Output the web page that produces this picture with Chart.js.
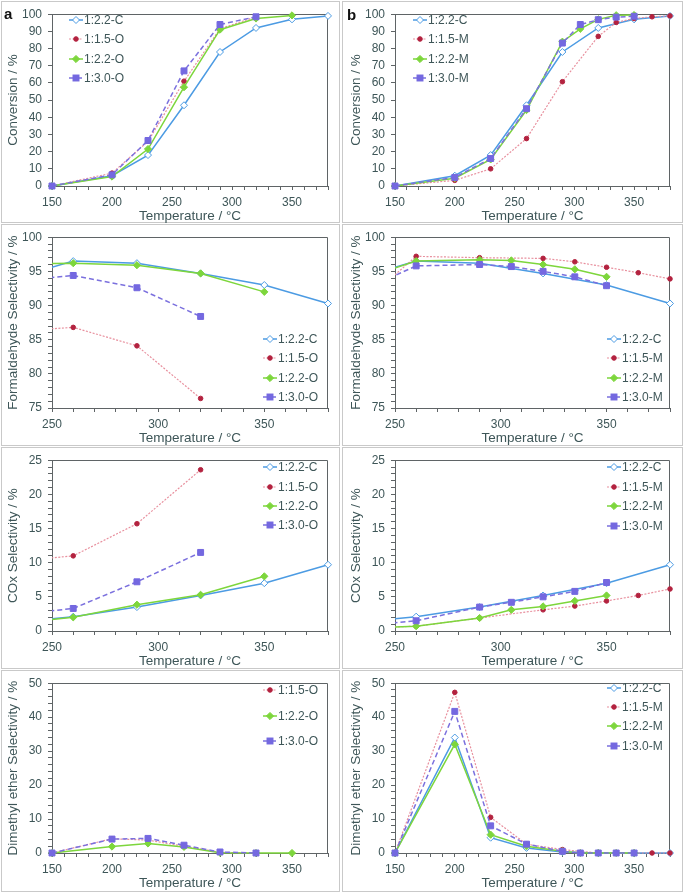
<!DOCTYPE html>
<html><head><meta charset="utf-8">
<script src="https://cdn.jsdelivr.net/npm/chart.js@4.4.0/dist/chart.umd.min.js"></script>
<style>
html,body{margin:0;padding:0;background:#fff;}
body{width:685px;height:893px;position:relative;overflow:hidden;font-family:"Liberation Sans",Arial,sans-serif;}
.panel{position:absolute;border:1px solid #c9c9c9;box-sizing:border-box;}
canvas{position:absolute;}
.legtxt{position:absolute;font-size:12px;color:#3e5658;white-space:nowrap;line-height:14px;}
.legsvg{position:absolute;overflow:visible;}
.letter{position:absolute;font-weight:bold;font-size:15px;color:#111;line-height:16px;}
</style></head><body>
<script>
// ---------------- DATA ----------------
// Conversion (%), panel a / b
const tempsC   = [150,200,230,260,290,320,350,380];
const convC    = [0,6,18,47,78,92,97,99];
const tempsO15 = [150,200,230,260,290,320];
const convO15  = [0,7.5,26,61,91.5,98.5];
const tempsO22 = [150,200,230,260,290,320,350];
const convO22  = [0,5.5,21.5,57.5,91,97.5,99.3];
const tempsO30 = [150,200,230,260,290,320];
const convO30  = [0,6.5,26.5,67,94,98.5];
const tempsM15 = [150,200,230,260,290,320,335,350,365,380];
const convM15  = [0,3.3,10,27.6,60.7,87.1,95.2,97.5,98.5,99];
const tempsM22 = [150,200,230,260,290,305,320,335,350];
const convM22  = [0,4.5,15.5,44.2,84,91.5,97,99.4,99.5];
const tempsM30 = [150,200,230,260,290,305,320,335,350];
const convM30  = [0,5,16,45,83.2,94,96.8,98.3,98.8];

// Selectivity temperatures (first point lies below the 250 °C axis start)
const sTempsC   = [230,260,290,320,350,380];
const sTempsO15 = [230,260,290,320];
const sTempsO22 = [230,260,290,320,350];
const sTempsO30 = [230,260,290,320];
const sTempsM15 = [230,260,290,320,335,350,365,380];
const sTempsM22 = [230,260,290,305,320,335,350];
const sTempsM30 = [230,260,290,305,320,335,350];

// Formaldehyde selectivity (%)
const fsC   = [93.8,96.5,96.2,94.7,93.0,90.3];
const fsO15 = [86.2,86.8,84.1,76.4];
const fsO22 = [96.0,96.2,95.9,94.7,92.0];
const fsO30 = [93.5,94.4,92.6,88.4];
const fsM15 = [89.1,97.2,97.0,96.9,96.4,95.6,94.8,93.9];
const fsM22 = [93.5,96.5,96.7,96.6,96.0,95.3,94.2];
const fsM30 = [91.6,95.8,96.0,95.7,95.0,94.2,92.9];

// COx selectivity (%)
const coxC   = [1.2,2.1,3.5,5.2,7.0,9.7];
const coxO15 = [10.1,11.0,15.7,23.6];
const coxO22 = [1.1,2.0,3.85,5.3,8.0];
const coxO30 = [2.3,3.3,7.2,11.5];
const coxM15 = [0.4,0.7,1.9,3.1,3.65,4.4,5.2,6.15];
const coxM22 = [0.4,0.7,1.9,3.1,3.6,4.4,5.2];
const coxM30 = [0.6,1.5,3.5,4.2,5.0,5.8,7.1];

// Dimethyl ether selectivity (%)
const dmeC   = [0,34,4.5,1.5,0.3,0,0,0];
const dmeO15 = [0,4.2,3.8,2.0,0.2,0];
const dmeO22 = [0,1.9,2.8,1.8,0.1,0,0];
const dmeO30 = [0,4.1,4.3,2.3,0.3,0];
const dmeM15 = [0,47.3,10.5,2.6,1.0,0,0,0,0,0];
const dmeM22 = [0,32,5.4,2.0,0.5,0,0,0,0];
const dmeM30 = [0,41.7,8.0,2.6,0.5,0,0,0,0];

const labelsO = {C:'1:2.2-C', R:'1:1.5-O', G:'1:2.2-O', P:'1:3.0-O'};
const labelsM = {C:'1:2.2-C', R:'1:1.5-M', G:'1:2.2-M', P:'1:3.0-M'};
const xTitle = 'Temperature / °C';
const yTitles = ['Conversion / %','Formaldehyde Selectivity / %','COx Selectivity / %','Dimethyl ether Selectivity / %'];

// ---------------- STYLE ----------------
const FONT = '"Liberation Sans", Arial, sans-serif';
const TXT = '#3e5658';
const AX = '#5f6466';
const ST = {
  C:{line:'#4c9be3', mk:'#4c9be3', fill:'#ffffff', lw:1.5, dash:[], ps:'rectRot', r:3.5, pbw:1, order:3},
  R:{line:'#e8909e', mk:'#b3223f', fill:'#b3223f', lw:1.2, dash:[2,1.5], ps:'circle', r:2.3, pbw:1, order:2},
  G:{line:'#7dd63c', mk:'#7dd63c', fill:'#7dd63c', lw:1.5, dash:[], ps:'rectRot', r:3.6, pbw:1, order:1},
  P:{line:'#7b70de', mk:'#7468e0', fill:'#7468e0', lw:1.5, dash:[5,3], ps:'rect', r:4.2, pbw:1, order:0}
};
const COLS = [{x0:1,w:339,L:52,R:328,tp:5.25},{x0:342,w:341,L:395,R:670,tp:7.75}];
const ROWS = [{y0:1,T:9,B:186},{y0:224,T:231,B:408},{y0:447,T:454,B:631},{y0:670,T:676,B:853}];

function ser(xs, ys, k, clipLeft){
  const s = ST[k];
  return {
    data: xs.map((x,i)=>({x:x, y:ys[i]})),
    borderColor:s.line, borderWidth:s.lw, borderDash:s.dash,
    pointStyle:s.ps, pointRadius:s.r, pointBackgroundColor:s.fill,
    pointBorderColor:s.mk, pointBorderWidth:s.pbw, tension:0, fill:false,
    order:s.order,
    clip: clipLeft ? {left:0, top:false, right:false, bottom:false} : false
  };
}

const boxPlugin = {
  id:'plotBox',
  beforeDatasetsDraw(chart){
    const a = chart.chartArea, ctx = chart.ctx;
    ctx.save();
    ctx.strokeStyle = AX; ctx.lineWidth = 1;
    ctx.beginPath();
    ctx.moveTo(Math.round(a.left)+0.5, Math.round(a.top)+0.5);
    ctx.lineTo(Math.round(a.right)-0.5, Math.round(a.top)+0.5);
    ctx.lineTo(Math.round(a.right)-0.5, Math.round(a.bottom));
    ctx.stroke();
    ctx.restore();
  }
};

function buildPanel(col,row,xmin,xmax,ymin,ymax,ystep,ymajor,datasets){
  const c = COLS[col], r = ROWS[row];
  const box = document.createElement('div');
  box.className='panel';
  box.style.left=(col===0?1:342)+'px';
  box.style.top=[1,224,447,670][row]+'px';
  box.style.width=(col===0?339:341)+'px';
  box.style.height=222+'px';
  document.body.appendChild(box);

  const cv = document.createElement('canvas');
  const W = c.w, H = r.B - r.y0 + 38;
  cv.width=W; cv.height=H;
  cv.style.left=c.x0+'px'; cv.style.top=r.y0+'px';
  cv.style.width=W+'px'; cv.style.height=H+'px';
  document.body.appendChild(cv);
  new Chart(cv,{
    type:'line',
    data:{datasets:datasets},
    options:{
      responsive:false, animation:false, events:[], devicePixelRatio:1,
      layout:{autoPadding:false, padding:{left:0, top:r.T-r.y0, right:W-(c.R-c.x0), bottom:1}},
      plugins:{legend:{display:false}, tooltip:{enabled:false}},
      scales:{
        x:{type:'linear', min:xmin, max:xmax,
          afterFit:s=>{s.height=37;},
          ticks:{stepSize:10, autoSkip:false, maxRotation:0, padding:5, color:TXT,
            font:{family:FONT,size:12}, callback:v=>(v%50===0?String(v):'')},
          grid:{drawOnChartArea:false, drawTicks:true, tickLength:4, color:AX, tickColor:AX},
          border:{display:true,color:AX,width:1},
          title:{display:true,text:xTitle,color:TXT,font:{family:FONT,size:13.5,lineHeight:1},padding:{top:0,bottom:0}}
        },
        y:{type:'linear', min:ymin, max:ymax,
          afterFit:s=>{s.width=c.L-c.x0;},
          ticks:{stepSize:ystep, autoSkip:false, padding:6, color:TXT,
            font:{family:FONT,size:12}, callback:v=>(Math.abs(v%ymajor)<1e-9?String(v):'')},
          grid:{drawOnChartArea:false, drawTicks:true, tickLength:4, color:AX, tickColor:AX},
          border:{display:true,color:AX,width:1},
          title:{display:true,text:yTitles[row],color:TXT,font:{family:FONT,size:13.5,lineHeight:1},padding:{top:c.tp,bottom:0}}
        }
      }
    },
    plugins:[boxPlugin]
  });
}

function legend(x, ys, keys, labels){
  keys.forEach((k,i)=>{
    const s = ST[k], y = ys[i];
    const ns='http://www.w3.org/2000/svg';
    const svg=document.createElementNS(ns,'svg');
    svg.setAttribute('class','legsvg');
    svg.setAttribute('width','14'); svg.setAttribute('height','10');
    svg.style.left=x+'px'; svg.style.top=(y-5)+'px';
    const ln=document.createElementNS(ns,'line');
    ln.setAttribute('x1','0');ln.setAttribute('x2','14');ln.setAttribute('y1','5');ln.setAttribute('y2','5');
    ln.setAttribute('stroke',s.line);ln.setAttribute('stroke-width',s.lw);
    if(s.dash.length) ln.setAttribute('stroke-dasharray',s.dash.join(','));
    svg.appendChild(ln);
    let m;
    if(s.ps==='circle'){m=document.createElementNS(ns,'circle');m.setAttribute('cx','7');m.setAttribute('cy','5');m.setAttribute('r',s.r);}
    else if(s.ps==='rect'){const h=s.r*Math.SQRT1_2;m=document.createElementNS(ns,'rect');m.setAttribute('x',7-h);m.setAttribute('y',5-h);m.setAttribute('width',2*h);m.setAttribute('height',2*h);}
    else {m=document.createElementNS(ns,'polygon');const q=s.r;m.setAttribute('points',`${7-q},5 7,${5-q} ${7+q},5 7,${5+q}`);}
    m.setAttribute('fill',s.fill);m.setAttribute('stroke',s.mk);m.setAttribute('stroke-width',s.pbw);
    svg.appendChild(m);
    document.body.appendChild(svg);
    const t=document.createElement('div');
    t.className='legtxt'; t.textContent=labels[k];
    t.style.left=(x+15)+'px'; t.style.top=(y-7)+'px';
    document.body.appendChild(t);
  });
}

function letter(txt,x,y){
  const d=document.createElement('div');d.className='letter';d.textContent=txt;
  d.style.left=x+'px';d.style.top=y+'px';document.body.appendChild(d);
}

// Row 1: conversion
buildPanel(0,0,150,380,0,100,10,10,[
  ser(tempsC,convC,'C'),ser(tempsO15,convO15,'R'),ser(tempsO22,convO22,'G'),ser(tempsO30,convO30,'P')]);
buildPanel(1,0,150,380,0,100,10,10,[
  ser(tempsC,convC,'C'),ser(tempsM15,convM15,'R'),ser(tempsM22,convM22,'G'),ser(tempsM30,convM30,'P')]);
// Row 2: formaldehyde selectivity
buildPanel(0,1,250,380,75,100,1,5,[
  ser(sTempsC,fsC,'C',true),ser(sTempsO15,fsO15,'R',true),ser(sTempsO22,fsO22,'G',true),ser(sTempsO30,fsO30,'P',true)]);
buildPanel(1,1,250,380,75,100,1,5,[
  ser(sTempsC,fsC,'C',true),ser(sTempsM15,fsM15,'R',true),ser(sTempsM22,fsM22,'G',true),ser(sTempsM30,fsM30,'P',true)]);
// Row 3: COx selectivity
buildPanel(0,2,250,380,0,25,1,5,[
  ser(sTempsC,coxC,'C',true),ser(sTempsO15,coxO15,'R',true),ser(sTempsO22,coxO22,'G',true),ser(sTempsO30,coxO30,'P',true)]);
buildPanel(1,2,250,380,0,25,1,5,[
  ser(sTempsC,coxC,'C',true),ser(sTempsM15,coxM15,'R',true),ser(sTempsM22,coxM22,'G',true),ser(sTempsM30,coxM30,'P',true)]);
// Row 4: DME selectivity
buildPanel(0,3,150,380,0,50,2,10,[
  ser(tempsO15,dmeO15,'R'),ser(tempsO22,dmeO22,'G'),ser(tempsO30,dmeO30,'P')]);
buildPanel(1,3,150,380,0,50,2,10,[
  ser(tempsC,dmeC,'C'),ser(tempsM15,dmeM15,'R'),ser(tempsM22,dmeM22,'G'),ser(tempsM30,dmeM30,'P')]);

legend(69,[20,39,58.5,78],['C','R','G','P'],labelsO);
legend(413,[20,39,59,78],['C','R','G','P'],labelsM);
legend(263,[339,358.3,377.7,396.7],['C','R','G','P'],labelsO);
legend(607,[339,358,377.7,397],['C','R','G','P'],labelsM);
legend(263,[467.3,486.7,506,525.3],['C','R','G','P'],labelsO);
legend(607,[467.3,487.3,506,525.7],['C','R','G','P'],labelsM);
legend(263,[690,716,741],['R','G','P'],labelsO);
legend(607,[688.3,706.7,726,745.7],['C','R','G','P'],labelsM);

letter('a',4,6);
letter('b',347,7);
</script>
</body></html>
